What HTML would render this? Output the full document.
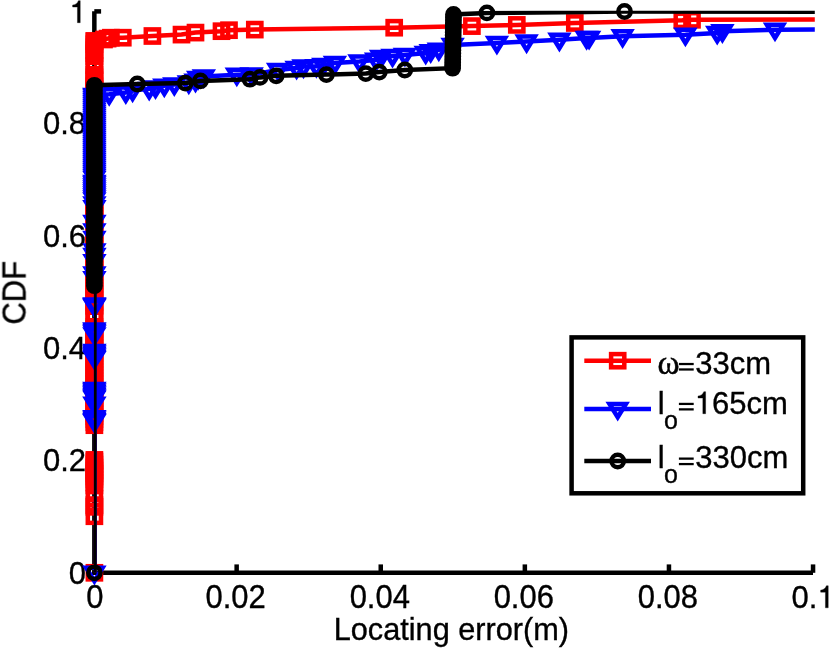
<!DOCTYPE html>
<html><head><meta charset="utf-8"><title>CDF of locating error</title>
<style>
html,body{margin:0;padding:0;background:#fff;}
body{width:830px;height:649px;overflow:hidden;font-family:"Liberation Sans",sans-serif;}
svg{display:block;}
text{font-family:"Liberation Sans",sans-serif;font-size:31px;fill:#000;stroke:#000;stroke-width:0.35px;}
.sub{font-size:25px;}
.om{font-family:"Liberation Serif",serif;font-size:33.5px;stroke:#000;stroke-width:0.55px;}
</style></head><body>
<svg width="830" height="649" viewBox="0 0 830 649">
<defs><clipPath id="ax"><rect x="93.9" y="10.7" width="720.9" height="570"/></clipPath></defs>
<rect width="830" height="649" fill="#fff"/>

<g stroke="#000" stroke-width="4.5" fill="none" stroke-linecap="butt">
<line x1="94.35" y1="11.2" x2="94.35" y2="575.0"/>
<line x1="92.1" y1="572.8" x2="813.0" y2="572.8"/>
<line x1="94.3" y1="11.4" x2="101.1" y2="11.4"/>
<line x1="236.65" y1="572.8" x2="236.65" y2="564.4"/>
<line x1="380.75" y1="572.8" x2="380.75" y2="564.4"/>
<line x1="524.85" y1="572.8" x2="524.85" y2="564.4"/>
<line x1="668.95" y1="572.8" x2="668.95" y2="564.4"/>
<line x1="813.05" y1="572.8" x2="813.05" y2="564.4"/>
</g>
<g style="filter:opacity(1)">
<text x="86" y="583.5" text-anchor="end">0</text>
<text x="86" y="471.2" text-anchor="end">0.2</text>
<text x="86" y="358.9" text-anchor="end">0.4</text>
<text x="86" y="246.7" text-anchor="end">0.6</text>
<text x="86" y="134.4" text-anchor="end">0.8</text>
<path d="M80.22 22.70L77.43 22.70L77.43 7.04L72.62 7.04L72.62 5.03C75.29 4.72 77.15 3.63 78.45 0.63L80.22 0.63Z" fill="#000" stroke="#000" stroke-width="0.35"/>
<text transform="translate(94.8,607.9) scale(1,1.045)" text-anchor="middle">0</text>
<text transform="translate(235.6,607.9) scale(1,1.045)" text-anchor="middle">0.02</text>
<text transform="translate(379.8,607.9) scale(1,1.045)" text-anchor="middle">0.04</text>
<text transform="translate(523.8,607.9) scale(1,1.045)" text-anchor="middle">0.06</text>
<text transform="translate(667.9,607.9) scale(1,1.045)" text-anchor="middle">0.08</text>
<text x="817.4" y="607.8" text-anchor="end">0.</text>
<path d="M828.22 607.80L825.43 607.80L825.43 592.14L820.62 592.14L820.62 590.13C823.29 589.82 825.15 588.73 826.45 585.73L828.22 585.73Z" fill="#000" stroke="#000" stroke-width="0.35"/>
<text x="451.4" y="640.2" text-anchor="middle" style="font-size:30.7px">Locating error(m)</text>
<text transform="translate(25.3,292.8) rotate(-90) scale(1,1.06)" text-anchor="middle">CDF</text>
</g>
<g stroke="#ff0000" stroke-width="4.5" fill="none" stroke-linejoin="miter">
<polyline clip-path="url(#ax)" points="94.40,572.80 94.40,516.25 94.40,506.85 94.40,505.10 94.40,498.55 94.40,485.35 94.40,482.50 94.40,479.50 94.40,476.50 94.40,473.50 94.40,470.50 94.40,467.50 94.40,464.50 94.40,461.50 94.40,459.90 94.40,425.20 94.40,422.20 94.40,419.20 94.40,416.20 94.40,413.20 94.40,410.20 94.40,407.20 94.40,404.20 94.40,401.20 94.40,398.20 94.40,395.20 94.40,392.20 94.40,389.20 94.40,386.20 94.40,383.20 94.40,380.20 94.40,377.20 94.40,374.20 94.40,371.20 94.40,368.20 94.40,365.20 94.40,362.20 94.40,359.20 94.40,356.20 94.40,353.20 94.40,350.20 94.40,347.20 94.40,344.20 94.40,341.20 94.40,338.20 94.40,335.20 94.40,332.20 94.40,329.20 94.40,326.85 94.40,317.20 94.40,316.50 94.40,314.20 94.40,306.15 94.40,305.20 94.40,302.20 94.40,299.20 94.40,296.20 94.40,293.20 94.40,290.20 94.40,287.20 94.40,284.20 94.40,281.20 94.40,278.20 94.40,275.20 94.40,272.20 94.40,269.20 94.40,266.20 94.40,263.20 94.40,260.20 94.40,257.20 94.40,254.20 94.40,251.20 94.40,248.20 94.40,245.20 94.40,242.20 94.40,239.20 94.40,236.20 94.40,233.20 94.40,230.20 94.40,227.20 94.40,224.20 94.40,221.20 94.40,218.20 94.40,215.20 94.40,212.20 94.40,209.20 94.40,206.20 94.40,203.20 94.40,200.20 94.40,197.20 94.40,194.20 94.40,191.20 94.40,188.20 94.40,185.20 94.40,182.20 94.40,179.20 94.40,176.20 94.40,173.20 94.40,170.20 94.40,167.20 94.40,164.20 94.40,161.20 94.40,158.20 94.40,155.20 94.40,152.20 94.40,149.20 94.40,146.20 94.40,143.20 94.40,140.20 94.40,137.20 94.40,134.20 94.40,131.20 94.40,128.20 94.40,125.20 94.40,122.20 94.40,119.20 94.40,116.20 94.40,113.20 94.40,110.20 94.40,107.20 94.40,104.20 94.40,101.20 94.40,98.20 94.40,95.20 94.40,92.20 94.40,89.20 94.40,86.20 94.40,83.20 94.40,80.20 94.40,77.20 94.40,74.85 94.40,65.50 94.40,65.20 94.40,56.15 94.40,53.20 94.40,50.20 94.40,47.20 94.40,44.20 94.40,41.20 94.40,41.00 104.00,39.50 107.60,38.60 110.90,37.70 122.80,37.70 152.40,36.00 181.50,34.60 195.50,32.60 221.50,31.20 229.00,30.20 254.80,29.60 394.20,27.70 471.90,26.10 516.80,24.90 574.80,23.00 682.30,20.30 692.00,19.80 830.00,19.50"/>
<g stroke-width="4.5">
<rect x="87.80" y="566.20" width="13.2" height="13.2"/>
<rect x="87.80" y="509.65" width="13.2" height="13.2"/>
<rect x="87.80" y="500.25" width="13.2" height="13.2"/>
<rect x="87.80" y="498.50" width="13.2" height="13.2"/>
<rect x="87.80" y="491.95" width="13.2" height="13.2"/>
<rect x="87.80" y="478.75" width="13.2" height="13.2"/>
<rect x="87.80" y="475.90" width="13.2" height="13.2"/>
<rect x="87.80" y="472.90" width="13.2" height="13.2"/>
<rect x="87.80" y="469.90" width="13.2" height="13.2"/>
<rect x="87.80" y="466.90" width="13.2" height="13.2"/>
<rect x="87.80" y="463.90" width="13.2" height="13.2"/>
<rect x="87.80" y="460.90" width="13.2" height="13.2"/>
<rect x="87.80" y="457.90" width="13.2" height="13.2"/>
<rect x="87.80" y="454.90" width="13.2" height="13.2"/>
<rect x="87.80" y="453.30" width="13.2" height="13.2"/>
<rect x="87.80" y="418.60" width="13.2" height="13.2"/>
<rect x="87.80" y="415.60" width="13.2" height="13.2"/>
<rect x="87.80" y="412.60" width="13.2" height="13.2"/>
<rect x="87.80" y="409.60" width="13.2" height="13.2"/>
<rect x="87.80" y="406.60" width="13.2" height="13.2"/>
<rect x="87.80" y="403.60" width="13.2" height="13.2"/>
<rect x="87.80" y="400.60" width="13.2" height="13.2"/>
<rect x="87.80" y="397.60" width="13.2" height="13.2"/>
<rect x="87.80" y="394.60" width="13.2" height="13.2"/>
<rect x="87.80" y="391.60" width="13.2" height="13.2"/>
<rect x="87.80" y="388.60" width="13.2" height="13.2"/>
<rect x="87.80" y="385.60" width="13.2" height="13.2"/>
<rect x="87.80" y="382.60" width="13.2" height="13.2"/>
<rect x="87.80" y="379.60" width="13.2" height="13.2"/>
<rect x="87.80" y="376.60" width="13.2" height="13.2"/>
<rect x="87.80" y="373.60" width="13.2" height="13.2"/>
<rect x="87.80" y="370.60" width="13.2" height="13.2"/>
<rect x="87.80" y="367.60" width="13.2" height="13.2"/>
<rect x="87.80" y="364.60" width="13.2" height="13.2"/>
<rect x="87.80" y="361.60" width="13.2" height="13.2"/>
<rect x="87.80" y="358.60" width="13.2" height="13.2"/>
<rect x="87.80" y="355.60" width="13.2" height="13.2"/>
<rect x="87.80" y="352.60" width="13.2" height="13.2"/>
<rect x="87.80" y="349.60" width="13.2" height="13.2"/>
<rect x="87.80" y="346.60" width="13.2" height="13.2"/>
<rect x="87.80" y="343.60" width="13.2" height="13.2"/>
<rect x="87.80" y="340.60" width="13.2" height="13.2"/>
<rect x="87.80" y="337.60" width="13.2" height="13.2"/>
<rect x="87.80" y="334.60" width="13.2" height="13.2"/>
<rect x="87.80" y="331.60" width="13.2" height="13.2"/>
<rect x="87.80" y="328.60" width="13.2" height="13.2"/>
<rect x="87.80" y="325.60" width="13.2" height="13.2"/>
<rect x="87.80" y="322.60" width="13.2" height="13.2"/>
<rect x="87.80" y="320.25" width="13.2" height="13.2"/>
<rect x="87.80" y="310.60" width="13.2" height="13.2"/>
<rect x="87.80" y="309.90" width="13.2" height="13.2"/>
<rect x="87.80" y="307.60" width="13.2" height="13.2"/>
<rect x="87.80" y="299.55" width="13.2" height="13.2"/>
<rect x="87.80" y="298.60" width="13.2" height="13.2"/>
<rect x="87.80" y="295.60" width="13.2" height="13.2"/>
<rect x="87.80" y="292.60" width="13.2" height="13.2"/>
<rect x="87.80" y="289.60" width="13.2" height="13.2"/>
<rect x="87.80" y="286.60" width="13.2" height="13.2"/>
<rect x="87.80" y="283.60" width="13.2" height="13.2"/>
<rect x="87.80" y="280.60" width="13.2" height="13.2"/>
<rect x="87.80" y="277.60" width="13.2" height="13.2"/>
<rect x="87.80" y="274.60" width="13.2" height="13.2"/>
<rect x="87.80" y="271.60" width="13.2" height="13.2"/>
<rect x="87.80" y="268.60" width="13.2" height="13.2"/>
<rect x="87.80" y="265.60" width="13.2" height="13.2"/>
<rect x="87.80" y="262.60" width="13.2" height="13.2"/>
<rect x="87.80" y="259.60" width="13.2" height="13.2"/>
<rect x="87.80" y="256.60" width="13.2" height="13.2"/>
<rect x="87.80" y="253.60" width="13.2" height="13.2"/>
<rect x="87.80" y="250.60" width="13.2" height="13.2"/>
<rect x="87.80" y="247.60" width="13.2" height="13.2"/>
<rect x="87.80" y="244.60" width="13.2" height="13.2"/>
<rect x="87.80" y="241.60" width="13.2" height="13.2"/>
<rect x="87.80" y="238.60" width="13.2" height="13.2"/>
<rect x="87.80" y="235.60" width="13.2" height="13.2"/>
<rect x="87.80" y="232.60" width="13.2" height="13.2"/>
<rect x="87.80" y="229.60" width="13.2" height="13.2"/>
<rect x="87.80" y="226.60" width="13.2" height="13.2"/>
<rect x="87.80" y="223.60" width="13.2" height="13.2"/>
<rect x="87.80" y="220.60" width="13.2" height="13.2"/>
<rect x="87.80" y="217.60" width="13.2" height="13.2"/>
<rect x="87.80" y="214.60" width="13.2" height="13.2"/>
<rect x="87.80" y="211.60" width="13.2" height="13.2"/>
<rect x="87.80" y="208.60" width="13.2" height="13.2"/>
<rect x="87.80" y="205.60" width="13.2" height="13.2"/>
<rect x="87.80" y="202.60" width="13.2" height="13.2"/>
<rect x="87.80" y="199.60" width="13.2" height="13.2"/>
<rect x="87.80" y="196.60" width="13.2" height="13.2"/>
<rect x="87.80" y="193.60" width="13.2" height="13.2"/>
<rect x="87.80" y="190.60" width="13.2" height="13.2"/>
<rect x="87.80" y="187.60" width="13.2" height="13.2"/>
<rect x="87.80" y="184.60" width="13.2" height="13.2"/>
<rect x="87.80" y="181.60" width="13.2" height="13.2"/>
<rect x="87.80" y="178.60" width="13.2" height="13.2"/>
<rect x="87.80" y="175.60" width="13.2" height="13.2"/>
<rect x="87.80" y="172.60" width="13.2" height="13.2"/>
<rect x="87.80" y="169.60" width="13.2" height="13.2"/>
<rect x="87.80" y="166.60" width="13.2" height="13.2"/>
<rect x="87.80" y="163.60" width="13.2" height="13.2"/>
<rect x="87.80" y="160.60" width="13.2" height="13.2"/>
<rect x="87.80" y="157.60" width="13.2" height="13.2"/>
<rect x="87.80" y="154.60" width="13.2" height="13.2"/>
<rect x="87.80" y="151.60" width="13.2" height="13.2"/>
<rect x="87.80" y="148.60" width="13.2" height="13.2"/>
<rect x="87.80" y="145.60" width="13.2" height="13.2"/>
<rect x="87.80" y="142.60" width="13.2" height="13.2"/>
<rect x="87.80" y="139.60" width="13.2" height="13.2"/>
<rect x="87.80" y="136.60" width="13.2" height="13.2"/>
<rect x="87.80" y="133.60" width="13.2" height="13.2"/>
<rect x="87.80" y="130.60" width="13.2" height="13.2"/>
<rect x="87.80" y="127.60" width="13.2" height="13.2"/>
<rect x="87.80" y="124.60" width="13.2" height="13.2"/>
<rect x="87.80" y="121.60" width="13.2" height="13.2"/>
<rect x="87.80" y="118.60" width="13.2" height="13.2"/>
<rect x="87.80" y="115.60" width="13.2" height="13.2"/>
<rect x="87.80" y="112.60" width="13.2" height="13.2"/>
<rect x="87.80" y="109.60" width="13.2" height="13.2"/>
<rect x="87.80" y="106.60" width="13.2" height="13.2"/>
<rect x="87.80" y="103.60" width="13.2" height="13.2"/>
<rect x="87.80" y="100.60" width="13.2" height="13.2"/>
<rect x="87.80" y="97.60" width="13.2" height="13.2"/>
<rect x="87.80" y="94.60" width="13.2" height="13.2"/>
<rect x="87.80" y="91.60" width="13.2" height="13.2"/>
<rect x="87.80" y="88.60" width="13.2" height="13.2"/>
<rect x="87.80" y="85.60" width="13.2" height="13.2"/>
<rect x="87.80" y="82.60" width="13.2" height="13.2"/>
<rect x="87.80" y="79.60" width="13.2" height="13.2"/>
<rect x="87.80" y="76.60" width="13.2" height="13.2"/>
<rect x="87.80" y="73.60" width="13.2" height="13.2"/>
<rect x="87.80" y="70.60" width="13.2" height="13.2"/>
<rect x="87.80" y="68.25" width="13.2" height="13.2"/>
<rect x="87.80" y="58.90" width="13.2" height="13.2"/>
<rect x="87.80" y="58.60" width="13.2" height="13.2"/>
<rect x="87.80" y="49.55" width="13.2" height="13.2"/>
<rect x="87.80" y="46.60" width="13.2" height="13.2"/>
<rect x="87.80" y="43.60" width="13.2" height="13.2"/>
<rect x="87.80" y="40.60" width="13.2" height="13.2"/>
<rect x="87.80" y="37.60" width="13.2" height="13.2"/>
<rect x="87.80" y="34.60" width="13.2" height="13.2"/>
<rect x="87.80" y="34.40" width="13.2" height="13.2"/>
<rect x="97.40" y="32.90" width="13.2" height="13.2"/>
<rect x="101.00" y="32.00" width="13.2" height="13.2"/>
<rect x="104.30" y="31.10" width="13.2" height="13.2"/>
<rect x="116.20" y="31.10" width="13.2" height="13.2"/>
<rect x="145.80" y="29.40" width="13.2" height="13.2"/>
<rect x="174.90" y="28.00" width="13.2" height="13.2"/>
<rect x="188.90" y="26.00" width="13.2" height="13.2"/>
<rect x="214.90" y="24.60" width="13.2" height="13.2"/>
<rect x="222.40" y="23.60" width="13.2" height="13.2"/>
<rect x="248.20" y="23.00" width="13.2" height="13.2"/>
<rect x="387.60" y="21.10" width="13.2" height="13.2"/>
<rect x="465.30" y="19.50" width="13.2" height="13.2"/>
<rect x="510.20" y="18.30" width="13.2" height="13.2"/>
<rect x="568.20" y="16.40" width="13.2" height="13.2"/>
<rect x="675.70" y="13.70" width="13.2" height="13.2"/>
<rect x="685.40" y="13.20" width="13.2" height="13.2"/>
</g></g>
<g stroke="#0000ff" stroke-width="4.5" fill="none" stroke-linejoin="miter">
<polyline clip-path="url(#ax)" points="94.40,572.80 94.40,421.30 94.40,420.20 94.40,418.80 94.40,417.20 94.40,403.70 94.40,397.80 94.40,396.50 94.40,395.00 94.40,393.50 94.40,392.00 94.40,390.50 94.40,389.00 94.40,358.20 94.40,357.00 94.40,355.50 94.40,354.00 94.40,352.50 94.40,351.10 94.40,334.50 94.40,332.50 94.40,331.00 94.40,329.50 94.40,306.00 94.40,305.30 94.40,304.50 94.40,278.20 94.40,273.60 94.40,261.20 94.40,255.10 94.40,250.40 94.40,238.10 94.40,230.40 94.40,221.90 94.40,207.30 94.40,203.60 94.40,199.50 94.40,197.50 94.40,195.50 94.40,193.50 94.40,191.50 94.40,189.50 94.40,187.50 94.40,185.50 94.40,183.50 94.40,182.00 94.40,178.00 94.40,176.00 94.40,174.00 94.40,172.00 94.40,170.00 94.40,168.00 94.40,166.00 94.40,164.00 94.40,162.00 94.40,160.00 94.40,158.00 94.40,156.00 94.40,154.00 94.40,152.00 94.40,150.00 94.40,148.00 94.40,146.00 94.40,144.00 94.40,142.00 94.40,140.00 94.40,138.00 94.40,136.00 94.40,134.00 94.40,132.00 94.40,130.00 94.40,128.00 94.40,126.00 94.40,124.00 94.40,122.00 94.40,120.00 94.40,118.00 94.40,116.00 94.40,114.00 94.40,112.00 94.40,110.00 94.40,108.00 94.40,106.00 94.40,104.00 94.40,102.00 94.40,100.00 94.40,98.00 94.40,96.00 94.40,94.90 109.20,94.20 125.80,92.50 132.60,90.60 149.20,88.90 155.50,87.50 164.30,85.70 174.30,84.40 188.80,82.60 195.50,80.80 198.20,78.10 203.80,76.40 236.80,74.70 251.60,74.60 278.10,69.90 296.60,67.90 303.50,66.60 316.40,66.20 323.30,64.90 334.90,62.90 359.50,61.60 376.10,59.80 381.10,56.90 392.50,56.00 404.90,55.00 425.70,53.00 430.70,51.30 438.80,49.70 452.60,45.10 496.90,42.90 526.60,41.60 559.40,39.80 586.60,38.10 589.10,38.00 622.60,36.30 685.40,34.70 717.20,33.00 722.40,31.30 775.00,29.70 830.00,29.55"/>
<g stroke-width="4.5">
<path d="M86.20 567.80L102.60 567.80L94.40 581.10Z"/>
<path d="M86.20 416.30L102.60 416.30L94.40 429.60Z"/>
<path d="M86.20 415.20L102.60 415.20L94.40 428.50Z"/>
<path d="M86.20 413.80L102.60 413.80L94.40 427.10Z"/>
<path d="M86.20 412.20L102.60 412.20L94.40 425.50Z"/>
<path d="M86.20 398.70L102.60 398.70L94.40 412.00Z"/>
<path d="M86.20 392.80L102.60 392.80L94.40 406.10Z"/>
<path d="M86.20 391.50L102.60 391.50L94.40 404.80Z"/>
<path d="M86.20 390.00L102.60 390.00L94.40 403.30Z"/>
<path d="M86.20 388.50L102.60 388.50L94.40 401.80Z"/>
<path d="M86.20 387.00L102.60 387.00L94.40 400.30Z"/>
<path d="M86.20 385.50L102.60 385.50L94.40 398.80Z"/>
<path d="M86.20 384.00L102.60 384.00L94.40 397.30Z"/>
<path d="M86.20 353.20L102.60 353.20L94.40 366.50Z"/>
<path d="M86.20 352.00L102.60 352.00L94.40 365.30Z"/>
<path d="M86.20 350.50L102.60 350.50L94.40 363.80Z"/>
<path d="M86.20 349.00L102.60 349.00L94.40 362.30Z"/>
<path d="M86.20 347.50L102.60 347.50L94.40 360.80Z"/>
<path d="M86.20 346.10L102.60 346.10L94.40 359.40Z"/>
<path d="M86.20 329.50L102.60 329.50L94.40 342.80Z"/>
<path d="M86.20 327.50L102.60 327.50L94.40 340.80Z"/>
<path d="M86.20 326.00L102.60 326.00L94.40 339.30Z"/>
<path d="M86.20 324.50L102.60 324.50L94.40 337.80Z"/>
<path d="M86.20 301.00L102.60 301.00L94.40 314.30Z"/>
<path d="M86.20 300.30L102.60 300.30L94.40 313.60Z"/>
<path d="M86.20 299.50L102.60 299.50L94.40 312.80Z"/>
<path d="M86.20 273.20L102.60 273.20L94.40 286.50Z"/>
<path d="M86.20 268.60L102.60 268.60L94.40 281.90Z"/>
<path d="M86.20 256.20L102.60 256.20L94.40 269.50Z"/>
<path d="M86.20 250.10L102.60 250.10L94.40 263.40Z"/>
<path d="M86.20 245.40L102.60 245.40L94.40 258.70Z"/>
<path d="M86.20 233.10L102.60 233.10L94.40 246.40Z"/>
<path d="M86.20 225.40L102.60 225.40L94.40 238.70Z"/>
<path d="M86.20 216.90L102.60 216.90L94.40 230.20Z"/>
<path d="M86.20 202.30L102.60 202.30L94.40 215.60Z"/>
<path d="M86.20 198.60L102.60 198.60L94.40 211.90Z"/>
<path d="M86.20 194.50L102.60 194.50L94.40 207.80Z"/>
<path d="M86.20 192.50L102.60 192.50L94.40 205.80Z"/>
<path d="M86.20 190.50L102.60 190.50L94.40 203.80Z"/>
<path d="M86.20 188.50L102.60 188.50L94.40 201.80Z"/>
<path d="M86.20 186.50L102.60 186.50L94.40 199.80Z"/>
<path d="M86.20 184.50L102.60 184.50L94.40 197.80Z"/>
<path d="M86.20 182.50L102.60 182.50L94.40 195.80Z"/>
<path d="M86.20 180.50L102.60 180.50L94.40 193.80Z"/>
<path d="M86.20 178.50L102.60 178.50L94.40 191.80Z"/>
<path d="M86.20 177.00L102.60 177.00L94.40 190.30Z"/>
<path d="M86.20 173.00L102.60 173.00L94.40 186.30Z"/>
<path d="M86.20 171.00L102.60 171.00L94.40 184.30Z"/>
<path d="M86.20 169.00L102.60 169.00L94.40 182.30Z"/>
<path d="M86.20 167.00L102.60 167.00L94.40 180.30Z"/>
<path d="M86.20 165.00L102.60 165.00L94.40 178.30Z"/>
<path d="M86.20 163.00L102.60 163.00L94.40 176.30Z"/>
<path d="M86.20 161.00L102.60 161.00L94.40 174.30Z"/>
<path d="M86.20 159.00L102.60 159.00L94.40 172.30Z"/>
<path d="M86.20 157.00L102.60 157.00L94.40 170.30Z"/>
<path d="M86.20 155.00L102.60 155.00L94.40 168.30Z"/>
<path d="M86.20 153.00L102.60 153.00L94.40 166.30Z"/>
<path d="M86.20 151.00L102.60 151.00L94.40 164.30Z"/>
<path d="M86.20 149.00L102.60 149.00L94.40 162.30Z"/>
<path d="M86.20 147.00L102.60 147.00L94.40 160.30Z"/>
<path d="M86.20 145.00L102.60 145.00L94.40 158.30Z"/>
<path d="M86.20 143.00L102.60 143.00L94.40 156.30Z"/>
<path d="M86.20 141.00L102.60 141.00L94.40 154.30Z"/>
<path d="M86.20 139.00L102.60 139.00L94.40 152.30Z"/>
<path d="M86.20 137.00L102.60 137.00L94.40 150.30Z"/>
<path d="M86.20 135.00L102.60 135.00L94.40 148.30Z"/>
<path d="M86.20 133.00L102.60 133.00L94.40 146.30Z"/>
<path d="M86.20 131.00L102.60 131.00L94.40 144.30Z"/>
<path d="M86.20 129.00L102.60 129.00L94.40 142.30Z"/>
<path d="M86.20 127.00L102.60 127.00L94.40 140.30Z"/>
<path d="M86.20 125.00L102.60 125.00L94.40 138.30Z"/>
<path d="M86.20 123.00L102.60 123.00L94.40 136.30Z"/>
<path d="M86.20 121.00L102.60 121.00L94.40 134.30Z"/>
<path d="M86.20 119.00L102.60 119.00L94.40 132.30Z"/>
<path d="M86.20 117.00L102.60 117.00L94.40 130.30Z"/>
<path d="M86.20 115.00L102.60 115.00L94.40 128.30Z"/>
<path d="M86.20 113.00L102.60 113.00L94.40 126.30Z"/>
<path d="M86.20 111.00L102.60 111.00L94.40 124.30Z"/>
<path d="M86.20 109.00L102.60 109.00L94.40 122.30Z"/>
<path d="M86.20 107.00L102.60 107.00L94.40 120.30Z"/>
<path d="M86.20 105.00L102.60 105.00L94.40 118.30Z"/>
<path d="M86.20 103.00L102.60 103.00L94.40 116.30Z"/>
<path d="M86.20 101.00L102.60 101.00L94.40 114.30Z"/>
<path d="M86.20 99.00L102.60 99.00L94.40 112.30Z"/>
<path d="M86.20 97.00L102.60 97.00L94.40 110.30Z"/>
<path d="M86.20 95.00L102.60 95.00L94.40 108.30Z"/>
<path d="M86.20 93.00L102.60 93.00L94.40 106.30Z"/>
<path d="M86.20 91.00L102.60 91.00L94.40 104.30Z"/>
<path d="M86.20 89.90L102.60 89.90L94.40 103.20Z"/>
<path d="M101.00 89.20L117.40 89.20L109.20 102.50Z"/>
<path d="M117.60 87.50L134.00 87.50L125.80 100.80Z"/>
<path d="M124.40 85.60L140.80 85.60L132.60 98.90Z"/>
<path d="M141.00 83.90L157.40 83.90L149.20 97.20Z"/>
<path d="M147.30 82.50L163.70 82.50L155.50 95.80Z"/>
<path d="M156.10 80.70L172.50 80.70L164.30 94.00Z"/>
<path d="M166.10 79.40L182.50 79.40L174.30 92.70Z"/>
<path d="M180.60 77.60L197.00 77.60L188.80 90.90Z"/>
<path d="M187.30 75.80L203.70 75.80L195.50 89.10Z"/>
<path d="M190.00 73.10L206.40 73.10L198.20 86.40Z"/>
<path d="M195.60 71.40L212.00 71.40L203.80 84.70Z"/>
<path d="M228.60 69.70L245.00 69.70L236.80 83.00Z"/>
<path d="M243.40 69.60L259.80 69.60L251.60 82.90Z"/>
<path d="M269.90 64.90L286.30 64.90L278.10 78.20Z"/>
<path d="M288.40 62.90L304.80 62.90L296.60 76.20Z"/>
<path d="M295.30 61.60L311.70 61.60L303.50 74.90Z"/>
<path d="M308.20 61.20L324.60 61.20L316.40 74.50Z"/>
<path d="M315.10 59.90L331.50 59.90L323.30 73.20Z"/>
<path d="M326.70 57.90L343.10 57.90L334.90 71.20Z"/>
<path d="M351.30 56.60L367.70 56.60L359.50 69.90Z"/>
<path d="M367.90 54.80L384.30 54.80L376.10 68.10Z"/>
<path d="M372.90 51.90L389.30 51.90L381.10 65.20Z"/>
<path d="M384.30 51.00L400.70 51.00L392.50 64.30Z"/>
<path d="M396.70 50.00L413.10 50.00L404.90 63.30Z"/>
<path d="M417.50 48.00L433.90 48.00L425.70 61.30Z"/>
<path d="M422.50 46.30L438.90 46.30L430.70 59.60Z"/>
<path d="M430.60 44.70L447.00 44.70L438.80 58.00Z"/>
<path d="M444.40 40.10L460.80 40.10L452.60 53.40Z"/>
<path d="M488.70 37.90L505.10 37.90L496.90 51.20Z"/>
<path d="M518.40 36.60L534.80 36.60L526.60 49.90Z"/>
<path d="M551.20 34.80L567.60 34.80L559.40 48.10Z"/>
<path d="M578.40 33.10L594.80 33.10L586.60 46.40Z"/>
<path d="M580.90 33.00L597.30 33.00L589.10 46.30Z"/>
<path d="M614.40 31.30L630.80 31.30L622.60 44.60Z"/>
<path d="M677.20 29.70L693.60 29.70L685.40 43.00Z"/>
<path d="M709.00 28.00L725.40 28.00L717.20 41.30Z"/>
<path d="M714.20 26.30L730.60 26.30L722.40 39.60Z"/>
<path d="M766.80 24.70L783.20 24.70L775.00 38.00Z"/>
</g></g>
<g stroke="#000000" stroke-width="4.5" fill="none" stroke-linejoin="miter">
<polyline clip-path="url(#ax)" points="94.40,572.80 94.40,285.70 94.40,282.70 94.40,279.70 94.40,276.70 94.40,273.70 94.40,270.70 94.40,267.70 94.40,264.70 94.40,261.70 94.40,258.70 94.40,255.70 94.40,252.70 94.40,249.70 94.40,246.70 94.40,243.70 94.40,240.70 94.40,237.70 94.40,234.70 94.40,231.70 94.40,228.70 94.40,225.70 94.40,222.70 94.40,219.70 94.40,216.70 94.40,213.70 94.40,210.70 94.40,207.70 94.40,204.70 94.40,201.70 94.40,198.70 94.40,195.70 94.40,192.70 94.40,189.70 94.40,186.70 94.40,183.70 94.40,180.70 94.40,177.70 94.40,174.70 94.40,171.70 94.40,168.70 94.40,165.70 94.40,162.70 94.40,159.70 94.40,156.70 94.40,153.70 94.40,150.70 94.40,147.70 94.40,144.70 94.40,141.70 94.40,138.70 94.40,135.70 94.40,132.70 94.40,129.70 94.40,126.70 94.40,123.70 94.40,120.70 94.40,117.70 94.40,114.70 94.40,111.70 94.40,108.70 94.40,105.70 94.40,102.70 94.40,99.70 94.40,96.70 94.40,93.70 94.40,90.70 94.40,87.70 94.40,85.30 137.30,84.00 185.30,83.10 200.40,80.90 249.90,79.20 260.00,77.40 276.20,75.80 326.40,74.60 365.80,73.60 379.30,72.10 404.80,70.00 452.60,68.20 452.65,65.20 452.70,62.20 452.75,59.20 452.80,56.20 452.85,53.20 452.90,50.20 452.95,47.20 453.00,44.20 453.05,41.20 453.10,38.20 453.15,35.20 453.20,32.20 453.25,29.20 453.30,26.20 453.35,23.20 453.40,20.20 453.45,17.20 453.50,14.40 486.90,12.90 624.50,11.50 830.00,11.85"/>
<g stroke-width="4.5">
<circle cx="94.40" cy="572.80" r="6.15"/>
<circle cx="94.40" cy="285.70" r="6.15"/>
<circle cx="94.40" cy="282.70" r="6.15"/>
<circle cx="94.40" cy="279.70" r="6.15"/>
<circle cx="94.40" cy="276.70" r="6.15"/>
<circle cx="94.40" cy="273.70" r="6.15"/>
<circle cx="94.40" cy="270.70" r="6.15"/>
<circle cx="94.40" cy="267.70" r="6.15"/>
<circle cx="94.40" cy="264.70" r="6.15"/>
<circle cx="94.40" cy="261.70" r="6.15"/>
<circle cx="94.40" cy="258.70" r="6.15"/>
<circle cx="94.40" cy="255.70" r="6.15"/>
<circle cx="94.40" cy="252.70" r="6.15"/>
<circle cx="94.40" cy="249.70" r="6.15"/>
<circle cx="94.40" cy="246.70" r="6.15"/>
<circle cx="94.40" cy="243.70" r="6.15"/>
<circle cx="94.40" cy="240.70" r="6.15"/>
<circle cx="94.40" cy="237.70" r="6.15"/>
<circle cx="94.40" cy="234.70" r="6.15"/>
<circle cx="94.40" cy="231.70" r="6.15"/>
<circle cx="94.40" cy="228.70" r="6.15"/>
<circle cx="94.40" cy="225.70" r="6.15"/>
<circle cx="94.40" cy="222.70" r="6.15"/>
<circle cx="94.40" cy="219.70" r="6.15"/>
<circle cx="94.40" cy="216.70" r="6.15"/>
<circle cx="94.40" cy="213.70" r="6.15"/>
<circle cx="94.40" cy="210.70" r="6.15"/>
<circle cx="94.40" cy="207.70" r="6.15"/>
<circle cx="94.40" cy="204.70" r="6.15"/>
<circle cx="94.40" cy="201.70" r="6.15"/>
<circle cx="94.40" cy="198.70" r="6.15"/>
<circle cx="94.40" cy="195.70" r="6.15"/>
<circle cx="94.40" cy="192.70" r="6.15"/>
<circle cx="94.40" cy="189.70" r="6.15"/>
<circle cx="94.40" cy="186.70" r="6.15"/>
<circle cx="94.40" cy="183.70" r="6.15"/>
<circle cx="94.40" cy="180.70" r="6.15"/>
<circle cx="94.40" cy="177.70" r="6.15"/>
<circle cx="94.40" cy="174.70" r="6.15"/>
<circle cx="94.40" cy="171.70" r="6.15"/>
<circle cx="94.40" cy="168.70" r="6.15"/>
<circle cx="94.40" cy="165.70" r="6.15"/>
<circle cx="94.40" cy="162.70" r="6.15"/>
<circle cx="94.40" cy="159.70" r="6.15"/>
<circle cx="94.40" cy="156.70" r="6.15"/>
<circle cx="94.40" cy="153.70" r="6.15"/>
<circle cx="94.40" cy="150.70" r="6.15"/>
<circle cx="94.40" cy="147.70" r="6.15"/>
<circle cx="94.40" cy="144.70" r="6.15"/>
<circle cx="94.40" cy="141.70" r="6.15"/>
<circle cx="94.40" cy="138.70" r="6.15"/>
<circle cx="94.40" cy="135.70" r="6.15"/>
<circle cx="94.40" cy="132.70" r="6.15"/>
<circle cx="94.40" cy="129.70" r="6.15"/>
<circle cx="94.40" cy="126.70" r="6.15"/>
<circle cx="94.40" cy="123.70" r="6.15"/>
<circle cx="94.40" cy="120.70" r="6.15"/>
<circle cx="94.40" cy="117.70" r="6.15"/>
<circle cx="94.40" cy="114.70" r="6.15"/>
<circle cx="94.40" cy="111.70" r="6.15"/>
<circle cx="94.40" cy="108.70" r="6.15"/>
<circle cx="94.40" cy="105.70" r="6.15"/>
<circle cx="94.40" cy="102.70" r="6.15"/>
<circle cx="94.40" cy="99.70" r="6.15"/>
<circle cx="94.40" cy="96.70" r="6.15"/>
<circle cx="94.40" cy="93.70" r="6.15"/>
<circle cx="94.40" cy="90.70" r="6.15"/>
<circle cx="94.40" cy="87.70" r="6.15"/>
<circle cx="94.40" cy="85.30" r="6.15"/>
<circle cx="137.30" cy="84.00" r="6.15"/>
<circle cx="185.30" cy="83.10" r="6.15"/>
<circle cx="200.40" cy="80.90" r="6.15"/>
<circle cx="249.90" cy="79.20" r="6.15"/>
<circle cx="260.00" cy="77.40" r="6.15"/>
<circle cx="276.20" cy="75.80" r="6.15"/>
<circle cx="326.40" cy="74.60" r="6.15"/>
<circle cx="365.80" cy="73.60" r="6.15"/>
<circle cx="379.30" cy="72.10" r="6.15"/>
<circle cx="404.80" cy="70.00" r="6.15"/>
<circle cx="452.60" cy="68.20" r="6.15"/>
<circle cx="452.65" cy="65.20" r="6.15"/>
<circle cx="452.70" cy="62.20" r="6.15"/>
<circle cx="452.75" cy="59.20" r="6.15"/>
<circle cx="452.80" cy="56.20" r="6.15"/>
<circle cx="452.85" cy="53.20" r="6.15"/>
<circle cx="452.90" cy="50.20" r="6.15"/>
<circle cx="452.95" cy="47.20" r="6.15"/>
<circle cx="453.00" cy="44.20" r="6.15"/>
<circle cx="453.05" cy="41.20" r="6.15"/>
<circle cx="453.10" cy="38.20" r="6.15"/>
<circle cx="453.15" cy="35.20" r="6.15"/>
<circle cx="453.20" cy="32.20" r="6.15"/>
<circle cx="453.25" cy="29.20" r="6.15"/>
<circle cx="453.30" cy="26.20" r="6.15"/>
<circle cx="453.35" cy="23.20" r="6.15"/>
<circle cx="453.40" cy="20.20" r="6.15"/>
<circle cx="453.45" cy="17.20" r="6.15"/>
<circle cx="453.50" cy="14.40" r="6.15"/>
<circle cx="486.90" cy="12.90" r="6.15"/>
<circle cx="624.50" cy="11.50" r="6.15"/>
</g></g>
<rect x="571.6" y="337.4" width="231.6" height="155.9" fill="#fff" stroke="#000" stroke-width="4.5"/>
<g stroke="#ff0000" stroke-width="4.5" fill="none"><line x1="584.3" y1="360.7" x2="651" y2="360.7"/><rect x="611.10" y="354.10" width="13.2" height="13.2"/></g>
<g stroke="#0000ff" stroke-width="4.5" fill="none"><line x1="584.3" y1="408.9" x2="651" y2="408.9"/><path d="M609.50 403.90L625.90 403.90L617.70 417.20Z"/></g>
<g stroke="#000000" stroke-width="4.5" fill="none"><line x1="584.3" y1="461.0" x2="651" y2="461.0"/><circle cx="617.70" cy="461.00" r="6.15"/></g>
<g style="filter:opacity(1)">
<text x="657.6" y="373.8" class="om">ω</text>
<rect x="678.90" y="362.90" width="14.8" height="2.25" fill="#000"/><rect x="678.90" y="368.35" width="14.8" height="2.25" fill="#000"/>
<text x="695.3" y="373.8">33cm</text>
<text x="657.8" y="413.7">l</text><text x="663.9" y="428.5" class="sub">o</text>
<rect x="678.90" y="402.80" width="14.8" height="2.25" fill="#000"/><rect x="678.90" y="408.25" width="14.8" height="2.25" fill="#000"/>
<path d="M705.62 413.70L702.83 413.70L702.83 398.05L698.02 398.05L698.02 396.03C700.69 395.72 702.55 394.63 703.85 391.63L705.62 391.63Z" fill="#000" stroke="#000" stroke-width="0.35"/>
<text x="712.04" y="413.7">65cm</text>
<text x="657.8" y="468.4">l</text><text x="663.9" y="482.7" class="sub">o</text>
<rect x="678.90" y="457.50" width="14.8" height="2.25" fill="#000"/><rect x="678.90" y="462.95" width="14.8" height="2.25" fill="#000"/>
<text x="695.3" y="468.4">330cm</text>
</g>
</svg></body></html>
